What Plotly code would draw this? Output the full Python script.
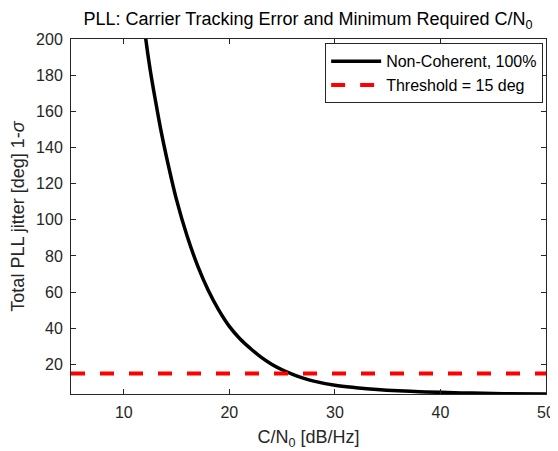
import plotly.graph_objects as go

# Data
cn0_db = [11.8, 12.0, 12.5, 13.0, 13.5, 14.0, 15.0, 16.0, 17.0, 18.0, 19.0, 20.0,
          21.0, 22.0, 23.0, 24.0, 25.0, 26.0, 27.0, 28.0, 30.0, 32.0, 34.0, 36.0,
          38.0, 40.0, 43.0, 46.0, 50.0]
jitter_deg = [216, 204, 183, 166, 150, 136, 111, 91, 74.5, 61, 50, 41,
              34.2, 28.8, 24.0, 20.1, 17.0, 14.5, 12.4, 10.7, 8.4, 7.1, 6.1, 5.4,
              4.9, 4.5, 4.1, 3.8, 3.6]
threshold_x = [5, 50]
threshold_deg = [15, 15]

x_ticks = [10, 20, 30, 40, 50]
y_ticks = [20, 40, 60, 80, 100, 120, 140, 160, 180, 200]

FONT = "Liberation Sans, Arial, Helvetica, sans-serif"
AX = "#262626"

# page body has an 8px margin; figure is sized to fit the 558x451 window
W, H = 550, 443
L, R, T, B = 62.5, 12.4, 31, 57

fig = go.Figure()
fig.add_trace(go.Scatter(x=cn0_db, y=jitter_deg, mode="lines",
                         line=dict(color="black", width=3.5, shape="spline", smoothing=1.0),
                         name="Non-Coherent, 100%"))
fig.add_trace(go.Scatter(x=threshold_x, y=threshold_deg, mode="lines",
                         line=dict(color="#ff0000", width=4, dash="14px,15px"),
                         name="Threshold = 15 deg"))

axis_common = dict(showline=True, linecolor=AX, linewidth=1, mirror="allticks",
                   ticks="inside", ticklen=5, tickcolor=AX, showgrid=False, zeroline=False,
                   automargin=False,
                   tickfont=dict(family=FONT, size=16, color=AX))

fig.update_layout(
    width=W, height=H,
    margin=dict(l=L, r=R, t=T, b=B, autoexpand=False),
    paper_bgcolor="white", plot_bgcolor="white",
    font=dict(family=FONT, size=16, color=AX),
    title=dict(text="PLL: Carrier Tracking Error and Minimum Required C/N<sub>0</sub>",
               x=(L + (W - R)) / 2 / W, xref="container", xanchor="center",
               y=1 - 11 / H, yref="container", yanchor="middle",
               font=dict(family=FONT, size=18, color="black")),
    xaxis=dict(range=[5, 50], tickvals=x_ticks, ticklabelstandoff=4,
               title=dict(text="C/N<sub>0</sub> [dB/Hz]", standoff=10,
                          font=dict(family=FONT, size=18, color=AX)),
               **axis_common),
    yaxis=dict(range=[3.6, 200], tickvals=y_ticks, ticklabelstandoff=4,
               title=dict(text="Total PLL jitter [deg] 1-<i>σ</i>", standoff=6,
                          font=dict(family=FONT, size=18, color=AX)),
               **axis_common),
    legend=dict(x=0.994, y=0.988, xanchor="right", yanchor="top",
                bgcolor="white", bordercolor=AX, borderwidth=1,
                font=dict(family=FONT, size=16, color="black"),
                tracegroupgap=0, itemwidth=50),
    showlegend=True,
)

fig.write_html("out.html")
